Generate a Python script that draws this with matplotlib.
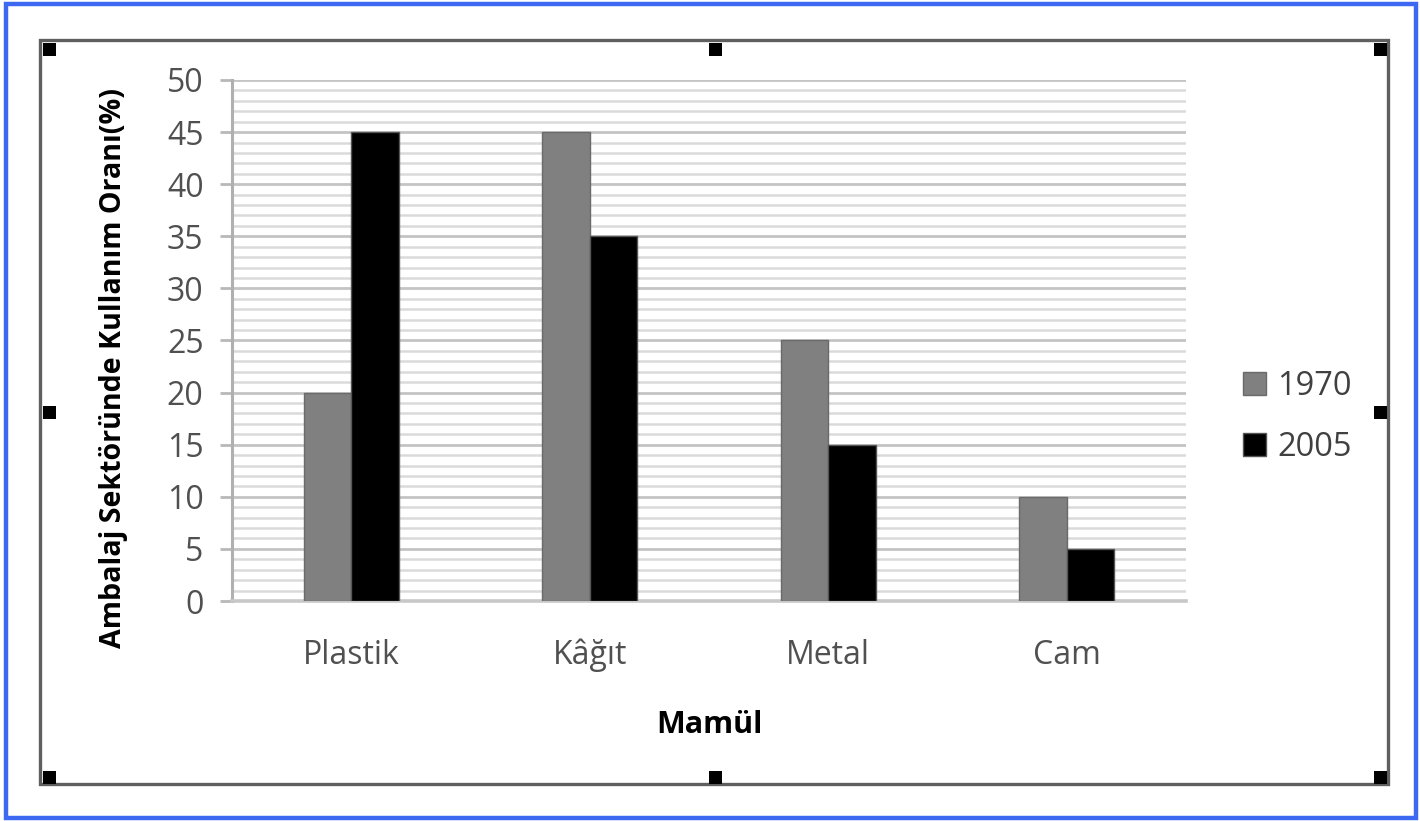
import numpy as np
import matplotlib.pyplot as plt
from matplotlib.patches import Rectangle
from matplotlib.ticker import MultipleLocator

categories = ["Plastik", "Kâğıt", "Metal", "Cam"]
y1970 = [20, 45, 25, 10]
y2005 = [45, 35, 15, 5]
series_names = ["1970", "2005"]

plt.rcParams['font.family'] = ['Open Sans', 'DejaVu Sans']

W, H = 1420, 821
fig = plt.figure(figsize=(W / 100, H / 100), dpi=100)
fig.patch.set_facecolor('white')

def px(x0, y0, w, h):
    # pixel box (top-left origin) -> figure fraction
    return (x0 / W, 1 - (y0 + h) / H, w / W, h / H)

# outer blue border
fig.patches.append(Rectangle((6 / W, 3 / H), 1410 / W, 814 / H, transform=fig.transFigure,
                             fill=False, edgecolor='#3d68f2', linewidth=3.2, zorder=0))
# chart frame
fig.patches.append(Rectangle((40 / W, 1 - 784 / H), 1348 / W, 744 / H, transform=fig.transFigure,
                             fill=False, edgecolor='#5f5f5f', linewidth=2.4, zorder=0))
# selection handles
hs = 13
for hx in [43, 709, 1374]:
    for hy in [43, 406, 771]:
        if hx == 709 and hy == 406:
            continue
        fig.patches.append(Rectangle(px(hx, hy, hs, hs)[:2], hs / W, hs / H, transform=fig.transFigure,
                                     facecolor='black', edgecolor='none', zorder=1))

ax = fig.add_axes([232 / W, 1 - 601 / H, (1186 - 232) / W, (601 - 80) / H])

x = np.arange(len(categories))
w = 0.2
ax.bar(x - w / 2, y1970, w, color='#808080', edgecolor='#6a6a6a', linewidth=1.0,
       label=series_names[0], zorder=3)
ax.bar(x + w / 2, y2005, w, color='black', edgecolor='#555555', linewidth=1.0,
       label=series_names[1], zorder=3)

ax.set_xlim(-0.5, 3.5)
ax.set_ylim(0, 50)
ax.yaxis.set_major_locator(MultipleLocator(5))
ax.yaxis.set_minor_locator(MultipleLocator(1))
ax.grid(axis='y', which='major', color='#c4c4c4', linewidth=2.0, zorder=0)
ax.grid(axis='y', which='minor', color='#dadada', linewidth=1.8, zorder=0)
ax.set_axisbelow(True)

for s in ['top', 'right']:
    ax.spines[s].set_visible(False)
ax.spines['left'].set_color('#b0b0b0')
ax.spines['left'].set_linewidth(2.2)
ax.spines['bottom'].set_color('#c8c8c8')
ax.spines['bottom'].set_linewidth(2.6)

ax.set_xticks(x)
ax.set_xticklabels(categories)
ax.tick_params(axis='x', length=0, pad=27, labelsize=23, labelcolor='#505050')
ax.tick_params(axis='y', which='major', length=8.5, width=2, color='#b8b8b8',
               pad=12, labelsize=23, labelcolor='#505050')
ax.tick_params(axis='y', which='minor', length=0)

fig.text(114 / W, 1 - 368 / H, "Ambalaj Sektöründe Kullanım Oranı(%)", rotation=90,
         ha='center', va='center', fontsize=20.6, fontweight='bold', color='black')
fig.text(709 / W, 1 - 725 / H, "Mamül", ha='center', va='center',
         fontsize=22, fontweight='bold', color='black')

leg = ax.legend(loc='center left', bbox_to_anchor=(1243 / W, 1 - 417 / H),
                bbox_transform=fig.transFigure, frameon=False, fontsize=23.5,
                handlelength=0.7, handleheight=0.7, handletextpad=0.35,
                labelspacing=0.85, borderpad=0, borderaxespad=0)
for t in leg.get_texts():
    t.set_color('#404040')

fig.savefig('out.png', dpi=100)
